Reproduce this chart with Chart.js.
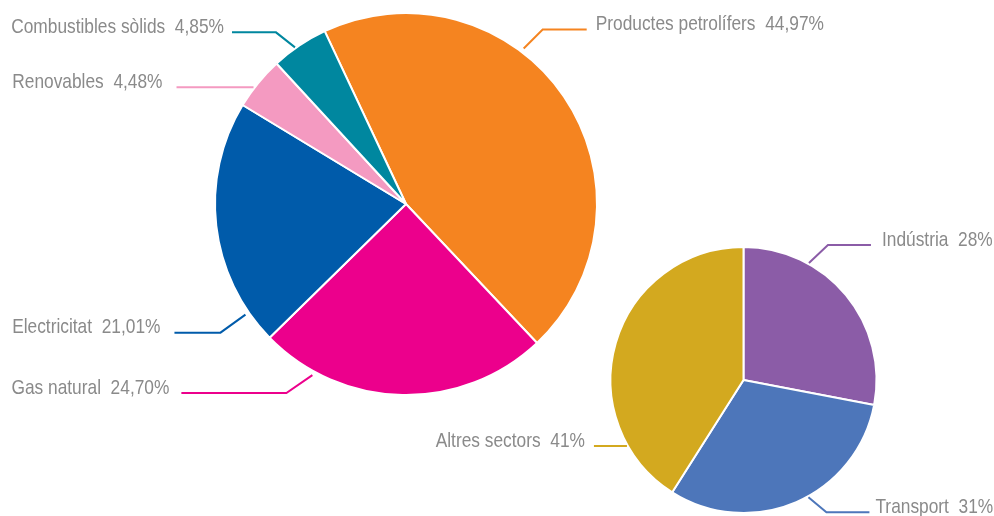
<!DOCTYPE html>
<html>
<head>
<meta charset="utf-8">
<script src="https://cdn.jsdelivr.net/npm/chart.js@4/dist/chart.umd.min.js"></script>
<style>
  html, body { margin: 0; padding: 0; background: #ffffff; }
  #wrap { position: relative; width: 994px; height: 516px; }
  #wrap canvas { position: absolute; left: 0; top: 0; }
</style>
</head>
<body>
<div id="wrap">
  <canvas id="fuels" width="994" height="516"></canvas>
  <canvas id="sectors" width="994" height="516"></canvas>
</div>
<script>
// Energy consumption by source (%)
const sourceNames = ['Productes petrolífers', 'Gas natural', 'Electricitat', 'Renovables', 'Combustibles sòlids'];
const sourceValues = [44.97, 24.70, 21.01, 4.48, 4.85];
const sourceColors = ['#F58420', '#EC008C', '#005BAA', '#F49AC1', '#00879F'];

// Energy consumption by sector (%)
const sectorNames = ['Indústria', 'Transport', 'Altres sectors'];
const sectorValues = [28, 31, 41];
const sectorColors = ['#8B5CA7', '#4D76BA', '#D3A91F'];

// Leader-line layout for each slice label:
// t = position along the slice, ext = gap beyond the rim,
// dx/dy = diagonal segment, run = horizontal segment, gap = space before text
const sourceLeaders = [
  { t: 0.385, ext: 4, dx: 19, dy: -19, run: 44, gap: 9, side: 1 },
  { t: 0.81, ext: 4, dx: -26, dy: 18, run: 105, gap: 12, side: -1 },
  { t: 0.13, ext: 4, dx: -25, dy: 18, run: 46, gap: 14, side: -1 },
  { t: 0.385, ext: 1, dx: 0, dy: 0, run: 77, gap: 14, side: -1 },
  { t: 0.42, ext: 1, dx: -19, dy: -15, run: 44, gap: 8, side: -1 }
];
const sectorLeaders = [
  { t: 0.29, ext: 1, dx: 19, dy: -18, run: 43, gap: 11, side: 1 },
  { t: 0.45, ext: 1, dx: 18, dy: 15, run: 43, gap: 6, side: 1 },
  { t: 0.19, ext: 1, dx: 0, dy: 0, run: 33, gap: 9, side: -1 }
];

// Condensed look: regular sans drawn with a horizontal squeeze
const LABEL_FONT = '21px "Liberation Sans", Arial, sans-serif';
const LABEL_SQUEEZE = 0.825;
const LABEL_COLOR = '#8a8a8a';

function fmtDecimal(v) { return v.toFixed(2).replace('.', ',') + '%'; }
function fmtInteger(v) { return Math.round(v) + '%'; }

// Draws leader lines and text labels next to each slice
const leaderLabels = {
  id: 'leaderLabels',
  afterDatasetsDraw(chart, args, opts) {
    const ctx = chart.ctx;
    const meta = chart.getDatasetMeta(0);
    const ds = chart.data.datasets[0];
    meta.data.forEach((arc, i) => {
      const p = arc.getProps(['x', 'y', 'startAngle', 'endAngle', 'outerRadius'], true);
      const L = opts.leaders[i];
      const a = p.startAngle + L.t * (p.endAngle - p.startAngle);
      const r = p.outerRadius + L.ext;
      const sx = p.x + r * Math.cos(a);
      const sy = p.y + r * Math.sin(a);
      const ex = sx + L.dx;
      const ey = sy + L.dy;
      const hx = ex + L.side * L.run;
      ctx.save();
      ctx.strokeStyle = ds.backgroundColor[i];
      ctx.lineWidth = 2;
      ctx.beginPath();
      ctx.moveTo(sx, sy);
      ctx.lineTo(ex, ey);
      ctx.lineTo(hx, ey);
      ctx.stroke();

      const text = chart.data.labels[i] + '  ' + opts.format(ds.data[i]);
      ctx.translate(hx + L.side * L.gap, ey + 0.5);
      ctx.scale(LABEL_SQUEEZE, 1);
      ctx.font = LABEL_FONT;
      ctx.fillStyle = LABEL_COLOR;
      ctx.textBaseline = 'alphabetic';
      ctx.textAlign = L.side > 0 ? 'left' : 'right';
      ctx.fillText(text, 0, 0);
      ctx.restore();
    });
  }
};

function makePie(id, labels, values, colors, rotation, padding, leaders, format) {
  return new Chart(document.getElementById(id), {
    type: 'pie',
    data: {
      labels: labels,
      datasets: [{
        data: values,
        backgroundColor: colors,
        borderColor: '#ffffff',
        borderWidth: 2
      }]
    },
    options: {
      responsive: false,
      animation: false,
      devicePixelRatio: 1,
      rotation: rotation,
      layout: { padding: padding },
      plugins: {
        legend: { display: false },
        tooltip: { enabled: false },
        leaderLabels: { leaders: leaders, format: format }
      }
    },
    plugins: [leaderLabels]
  });
}

makePie('fuels', sourceNames, sourceValues, sourceColors, -25.2,
  { left: 214, right: 396, top: 12, bottom: 120 }, sourceLeaders, fmtDecimal);

makePie('sectors', sectorNames, sectorValues, sectorColors, 0,
  { left: 609, right: 116, top: 246, bottom: 2 }, sectorLeaders, fmtInteger);
</script>
</body>
</html>
